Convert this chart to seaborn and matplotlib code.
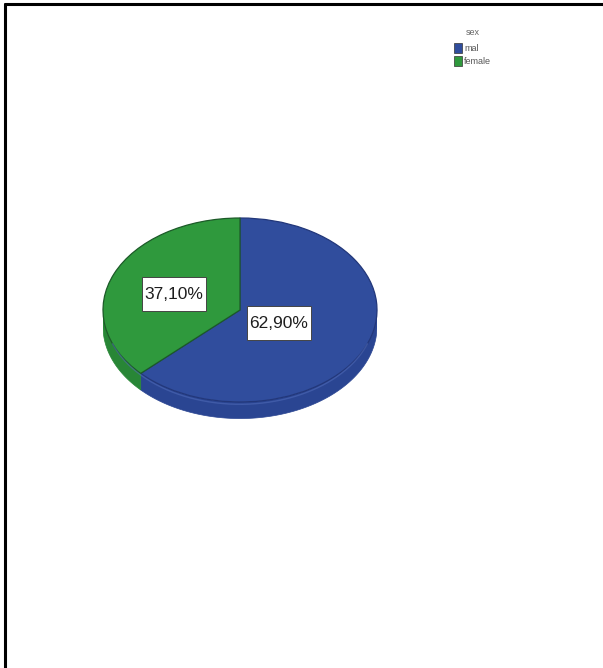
import numpy as np
import matplotlib
matplotlib.use("Agg")
import matplotlib.pyplot as plt
from matplotlib.patches import Polygon, Patch, Rectangle
from matplotlib.lines import Line2D
import seaborn as sns

# Data
categories = ["mal", "female"]
shares = [62.90, 37.10]
legend_title = "sex"

sns.set_theme(style="white")
plt.rcParams["font.family"] = ["Liberation Sans", "DejaVu Sans"]

top_colors = ["#304d9d", "#2f993d"]
side_colors = ["#2a4592", "#288636"]
edge_colors = ["#22377a", "#1c5a28"]

W, H = 603, 668
fig = plt.figure(figsize=(W / 100, H / 100), dpi=100)
fig.patch.set_facecolor("white")

# Frame lines along the top and left edges
fig.add_artist(Line2D([5 / W, 1.0], [1 - 4 / H, 1 - 4 / H], color="black", lw=2.2))
fig.add_artist(Line2D([5 / W, 5 / W], [1 - 4 / H, 0.0], color="black", lw=2.2))

# Pie axes: ellipse with a shallow side wall for depth
cx, cy, rx, ry = 240, 310, 137, 92
depth = 0.18
ax_h = ry * (2 + depth)
ax = fig.add_axes([(cx - rx) / W, (H - (cy - ry) - ax_h) / H, 2 * rx / W, ax_h / H])

start = 90.0
angles = []
a = start
for v in shares:
    sweep = 360.0 * v / sum(shares)
    angles.append((a - sweep, a))
    a -= sweep

# Side wall for the lower half of the ellipse
for (lo, hi), col in zip(angles, side_colors):
    lo_n, hi_n = lo % 360, hi % 360
    if hi_n <= lo_n:
        hi_n += 360
    seg_lo, seg_hi = max(lo_n, 180), min(hi_n, 360)
    if seg_hi <= seg_lo:
        continue
    t = np.radians(np.linspace(seg_lo, seg_hi, 120))
    upper = np.column_stack([np.cos(t), np.sin(t)])
    lower = np.column_stack([np.cos(t[::-1]), np.sin(t[::-1]) - depth])
    ax.add_patch(Polygon(np.vstack([upper, lower]), closed=True, facecolor=col,
                         edgecolor=col, lw=0.5, zorder=1))

wedges, _ = ax.pie(shares, colors=top_colors, startangle=start, counterclock=False,
                   radius=1.0, wedgeprops=dict(linewidth=0.9))
for w, ec in zip(wedges, edge_colors):
    w.set_zorder(2)
    w.set_edgecolor(ec)

# Lighter rim along the front edge of the top face
t = np.radians(np.linspace(200, 340, 200))
ax.plot(np.cos(t) * 0.99, np.sin(t) - 0.025, color="#5570bd", lw=1.0, alpha=0.5, zorder=3)

ax.set_aspect("auto")
ax.set_xlim(-1, 1)
ax.set_ylim(-1 - depth, 1)
ax.axis("off")

# Percentage labels in white boxes
box_w, box_h = 64 / rx, 34 / ry
box_pos = [(0.285, -0.141), (-0.482, 0.174)]
for v, (bx, by) in zip(shares, box_pos):
    ax.add_patch(Rectangle((bx - box_w / 2, by - box_h / 2), box_w, box_h, facecolor="white",
                           edgecolor="#444444", lw=0.7, zorder=4))
    ax.text(bx, by - 0.01, f"{v:.2f}%".replace(".", ","), ha="center", va="center",
            fontsize=12.5, color="#1e1e1e", zorder=5)

# Legend
handles = [Patch(facecolor=c, edgecolor="#333333", lw=0.5) for c in top_colors]
leg = fig.legend(handles, categories, title=legend_title, loc="upper left",
                 bbox_to_anchor=(448 / W, 1 - 22 / H), frameon=False, fontsize=6.5,
                 title_fontsize=6.5, handlelength=0.8, handleheight=1.4, handletextpad=0.3,
                 labelspacing=0.25, borderpad=0.2)
leg._legend_box.sep = 4
leg.get_title().set_color("#666666")
for txt in leg.get_texts():
    txt.set_color("#555555")

fig.savefig("out.png", dpi=100, facecolor="white")
